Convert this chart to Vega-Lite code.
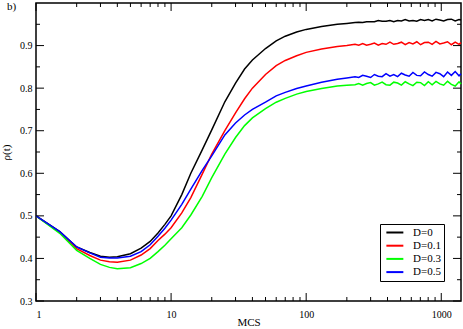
{
  "$schema": "https://vega.github.io/schema/vega-lite/v6.json",
  "width": 425,
  "height": 298,
  "autosize": {"type": "none"},
  "padding": {"left": 36, "top": 3, "right": 2, "bottom": 28},
  "background": "white",
  "config": {
    "view": {"stroke": "black", "strokeWidth": 1.5},
    "axis": {"grid": false, "domain": false, "ticks": false, "labelFont": "Liberation Serif", "titleFont": "Liberation Serif", "labelFontSize": 10, "titleFontSize": 11, "titleFontWeight": "normal", "labelColor": "black", "titleColor": "black"},
    "tick": {"color": "black", "thickness": 1, "opacity": 1},
    "legend": {"orient": "none", "legendX": 344, "legendY": 221, "strokeColor": "black", "strokeWidth": 1, "fillColor": "white", "padding": 3, "symbolType": "M-0.5,0H3.5", "symbolSize": 72, "symbolStrokeWidth": 2, "labelFont": "Liberation Serif", "labelFontSize": 11, "labelColor": "black", "labelOffset": 19, "rowPadding": 1.2}
  },
  "datasets": {
    "curves": [
      {"t": 1, "d0": 0.5, "d1": 0.5, "d3": 0.5, "d5": 0.5},
      {"t": 1.5, "d0": 0.463, "d1": 0.461, "d3": 0.459, "d5": 0.463},
      {"t": 2, "d0": 0.427, "d1": 0.423, "d3": 0.419, "d5": 0.427},
      {"t": 2.5, "d0": 0.414, "d1": 0.407, "d3": 0.4, "d5": 0.413},
      {"t": 3, "d0": 0.405, "d1": 0.396, "d3": 0.386, "d5": 0.403},
      {"t": 3.5, "d0": 0.403, "d1": 0.392, "d3": 0.379, "d5": 0.401},
      {"t": 4, "d0": 0.404, "d1": 0.391, "d3": 0.376, "d5": 0.401},
      {"t": 5, "d0": 0.411, "d1": 0.396, "d3": 0.378, "d5": 0.405},
      {"t": 6, "d0": 0.424, "d1": 0.408, "d3": 0.388, "d5": 0.416},
      {"t": 7, "d0": 0.44, "d1": 0.423, "d3": 0.4, "d5": 0.432},
      {"t": 8, "d0": 0.46, "d1": 0.442, "d3": 0.416, "d5": 0.452},
      {"t": 9, "d0": 0.48, "d1": 0.457, "d3": 0.431, "d5": 0.471},
      {"t": 10, "d0": 0.5, "d1": 0.472, "d3": 0.446, "d5": 0.49},
      {"t": 12, "d0": 0.55, "d1": 0.507, "d3": 0.472, "d5": 0.527},
      {"t": 14, "d0": 0.6, "d1": 0.543, "d3": 0.502, "d5": 0.563},
      {"t": 17, "d0": 0.655, "d1": 0.598, "d3": 0.546, "d5": 0.607},
      {"t": 20, "d0": 0.702, "d1": 0.645, "d3": 0.59, "d5": 0.641},
      {"t": 25, "d0": 0.768, "d1": 0.7, "d3": 0.645, "d5": 0.69},
      {"t": 30, "d0": 0.812, "d1": 0.742, "d3": 0.684, "d5": 0.718},
      {"t": 35, "d0": 0.845, "d1": 0.775, "d3": 0.712, "d5": 0.737},
      {"t": 40, "d0": 0.866, "d1": 0.8, "d3": 0.73, "d5": 0.75},
      {"t": 50, "d0": 0.893, "d1": 0.832, "d3": 0.752, "d5": 0.767},
      {"t": 60, "d0": 0.911, "d1": 0.853, "d3": 0.767, "d5": 0.782},
      {"t": 70, "d0": 0.922, "d1": 0.865, "d3": 0.776, "d5": 0.79},
      {"t": 85, "d0": 0.932, "d1": 0.876, "d3": 0.786, "d5": 0.799},
      {"t": 100, "d0": 0.938, "d1": 0.884, "d3": 0.792, "d5": 0.805},
      {"t": 130, "d0": 0.945, "d1": 0.892, "d3": 0.799, "d5": 0.814},
      {"t": 170, "d0": 0.95, "d1": 0.898, "d3": 0.805, "d5": 0.821},
      {"t": 200, "d0": 0.952, "d1": 0.9, "d3": 0.807, "d5": 0.824},
      {"t": 230, "d0": 0.954, "d1": 0.903, "d3": 0.808, "d5": 0.827},
      {"t": 245, "d0": 0.955, "d1": 0.901, "d3": 0.811, "d5": 0.825},
      {"t": 262, "d0": 0.954, "d1": 0.905, "d3": 0.807, "d5": 0.83},
      {"t": 280, "d0": 0.956, "d1": 0.901, "d3": 0.811, "d5": 0.828},
      {"t": 300, "d0": 0.956, "d1": 0.903, "d3": 0.813, "d5": 0.825},
      {"t": 320, "d0": 0.956, "d1": 0.906, "d3": 0.807, "d5": 0.832},
      {"t": 342, "d0": 0.959, "d1": 0.901, "d3": 0.81, "d5": 0.828},
      {"t": 365, "d0": 0.957, "d1": 0.905, "d3": 0.814, "d5": 0.827},
      {"t": 390, "d0": 0.957, "d1": 0.903, "d3": 0.808, "d5": 0.834},
      {"t": 417, "d0": 0.959, "d1": 0.908, "d3": 0.807, "d5": 0.828},
      {"t": 445, "d0": 0.956, "d1": 0.903, "d3": 0.814, "d5": 0.832},
      {"t": 475, "d0": 0.959, "d1": 0.905, "d3": 0.812, "d5": 0.827},
      {"t": 507, "d0": 0.958, "d1": 0.908, "d3": 0.807, "d5": 0.835},
      {"t": 541, "d0": 0.961, "d1": 0.902, "d3": 0.815, "d5": 0.831},
      {"t": 578, "d0": 0.958, "d1": 0.907, "d3": 0.81, "d5": 0.828},
      {"t": 617, "d0": 0.959, "d1": 0.904, "d3": 0.806, "d5": 0.837},
      {"t": 659, "d0": 0.957, "d1": 0.909, "d3": 0.814, "d5": 0.83},
      {"t": 703, "d0": 0.961, "d1": 0.902, "d3": 0.813, "d5": 0.829},
      {"t": 751, "d0": 0.959, "d1": 0.907, "d3": 0.806, "d5": 0.838},
      {"t": 802, "d0": 0.961, "d1": 0.908, "d3": 0.815, "d5": 0.832},
      {"t": 856, "d0": 0.958, "d1": 0.903, "d3": 0.808, "d5": 0.828},
      {"t": 914, "d0": 0.962, "d1": 0.91, "d3": 0.816, "d5": 0.837},
      {"t": 976, "d0": 0.96, "d1": 0.904, "d3": 0.81, "d5": 0.834},
      {"t": 1042, "d0": 0.958, "d1": 0.906, "d3": 0.807, "d5": 0.827},
      {"t": 1113, "d0": 0.961, "d1": 0.909, "d3": 0.816, "d5": 0.838},
      {"t": 1188, "d0": 0.962, "d1": 0.902, "d3": 0.809, "d5": 0.83},
      {"t": 1268, "d0": 0.958, "d1": 0.908, "d3": 0.805, "d5": 0.839},
      {"t": 1354, "d0": 0.961, "d1": 0.903, "d3": 0.815, "d5": 0.829},
      {"t": 1400, "d0": 0.96, "d1": 0.907, "d3": 0.81, "d5": 0.834}
    ],
    "xmajor": [{"t": 1}, {"t": 10}, {"t": 100}, {"t": 1000}],
    "xminor": [{"t": 2}, {"t": 3}, {"t": 4}, {"t": 5}, {"t": 6}, {"t": 7}, {"t": 8}, {"t": 9}, {"t": 20}, {"t": 30}, {"t": 40}, {"t": 50}, {"t": 60}, {"t": 70}, {"t": 80}, {"t": 90}, {"t": 200}, {"t": 300}, {"t": 400}, {"t": 500}, {"t": 600}, {"t": 700}, {"t": 800}, {"t": 900}],
    "ymajor": [{"v": 0.3}, {"v": 0.4}, {"v": 0.5}, {"v": 0.6}, {"v": 0.7}, {"v": 0.8}, {"v": 0.9}],
    "yminor": [{"v": 0.35}, {"v": 0.45}, {"v": 0.55}, {"v": 0.65}, {"v": 0.75}, {"v": 0.85}, {"v": 0.95}],
    "panel": [{"label": "b)"}]
  },
  "layer": [
    {
      "data": {"name": "curves"},
      "transform": [{"fold": ["d0", "d1", "d3", "d5"], "as": ["D", "v"]}],
      "mark": {"type": "line", "strokeWidth": 1.5},
      "encoding": {
        "x": {"field": "t", "type": "quantitative", "scale": {"type": "log", "domain": [1, 1400], "nice": false},
              "axis": {"orient": "bottom", "values": [1, 10, 100, 1000], "format": "d", "labelPadding": 8, "title": "MCS", "titlePadding": -3}},
        "y": {"field": "v", "type": "quantitative", "scale": {"domain": [0.3, 1.0], "nice": false, "zero": false},
              "axis": {"orient": "left", "values": [0.3, 0.4, 0.5, 0.6, 0.7, 0.8, 0.9], "format": ".1f", "labelPadding": 4, "title": "ρ(t)", "titlePadding": 8}},
        "color": {"field": "D", "type": "nominal",
                  "scale": {"domain": ["d0", "d1", "d3", "d5"], "range": ["#000000", "#ff0000", "#00ff00", "#0000ff"]},
                  "legend": {"title": null, "labelExpr": "datum.label == 'd0' ? 'D=0' : datum.label == 'd1' ? 'D=0.1' : datum.label == 'd3' ? 'D=0.3' : 'D=0.5'"}}
      }
    },
    {
      "data": {"name": "xmajor"},
      "mark": {"type": "tick", "orient": "vertical", "size": 8, "yOffset": -4},
      "encoding": {"x": {"field": "t", "type": "quantitative", "axis": null}, "y": {"datum": 0.3, "type": "quantitative", "axis": null}}
    },
    {
      "data": {"name": "xmajor"},
      "mark": {"type": "tick", "orient": "vertical", "size": 8, "yOffset": 4},
      "encoding": {"x": {"field": "t", "type": "quantitative", "axis": null}, "y": {"datum": 1.0, "type": "quantitative", "axis": null}}
    },
    {
      "data": {"name": "xminor"},
      "mark": {"type": "tick", "orient": "vertical", "size": 4, "yOffset": -2},
      "encoding": {"x": {"field": "t", "type": "quantitative", "axis": null}, "y": {"datum": 0.3, "type": "quantitative", "axis": null}}
    },
    {
      "data": {"name": "xminor"},
      "mark": {"type": "tick", "orient": "vertical", "size": 4, "yOffset": 2},
      "encoding": {"x": {"field": "t", "type": "quantitative", "axis": null}, "y": {"datum": 1.0, "type": "quantitative", "axis": null}}
    },
    {
      "data": {"name": "ymajor"},
      "mark": {"type": "tick", "orient": "horizontal", "size": 8, "xOffset": 4},
      "encoding": {"y": {"field": "v", "type": "quantitative", "axis": null}, "x": {"datum": 1, "type": "quantitative", "axis": null}}
    },
    {
      "data": {"name": "ymajor"},
      "mark": {"type": "tick", "orient": "horizontal", "size": 8, "xOffset": -4},
      "encoding": {"y": {"field": "v", "type": "quantitative", "axis": null}, "x": {"datum": 1400, "type": "quantitative", "axis": null}}
    },
    {
      "data": {"name": "yminor"},
      "mark": {"type": "tick", "orient": "horizontal", "size": 4, "xOffset": 2},
      "encoding": {"y": {"field": "v", "type": "quantitative", "axis": null}, "x": {"datum": 1, "type": "quantitative", "axis": null}}
    },
    {
      "data": {"name": "yminor"},
      "mark": {"type": "tick", "orient": "horizontal", "size": 4, "xOffset": -2},
      "encoding": {"y": {"field": "v", "type": "quantitative", "axis": null}, "x": {"datum": 1400, "type": "quantitative", "axis": null}}
    },
    {
      "data": {"name": "panel"},
      "mark": {"type": "text", "align": "left", "baseline": "top", "dx": -29, "dy": -2, "font": "Liberation Serif", "fontSize": 11, "color": "black"},
      "encoding": {"text": {"field": "label"}, "x": {"datum": 1, "type": "quantitative", "axis": null}, "y": {"datum": 1.0, "type": "quantitative", "axis": null}}
    }
  ],
  "resolve": {"axis": {"x": "independent", "y": "independent"}}
}
